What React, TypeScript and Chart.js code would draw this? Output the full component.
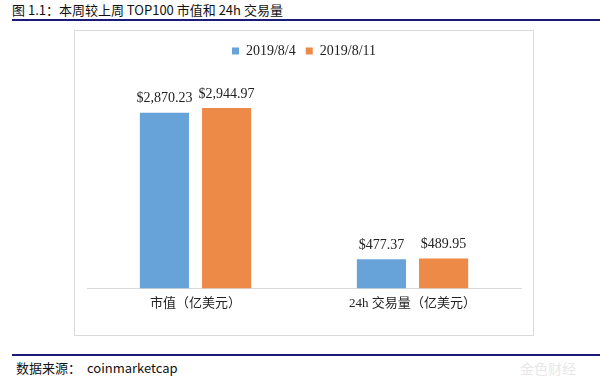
import React, { useEffect, useRef } from "react";
import { Chart, registerables } from "chart.js";

Chart.register(...registerables);

const categories = ["市值（亿美元）", "24h 交易量（亿美元）"];
const seriesNames = ["2019/8/4", "2019/8/11"];
const series1 = [2870.23, 477.37];
const series2 = [2944.97, 489.95];
const colors = ["#67A2D9", "#EE8A47"];

const fmt = (v: number) =>
  "$" + v.toLocaleString("en-US", { minimumFractionDigits: 2, maximumFractionDigits: 2 });

const labelPlugin = {
  id: "valueLabels",
  afterDatasetsDraw(chart: any) {
    const ctx = chart.ctx;
    ctx.save();
    ctx.font = "14px 'Liberation Serif'";
    ctx.fillStyle = "#222";
    ctx.textAlign = "center";
    ctx.textBaseline = "bottom";
    chart.data.datasets.forEach((ds: any, i: number) => {
      const meta = chart.getDatasetMeta(i);
      meta.data.forEach((el: any, j: number) => {
        ctx.fillText(fmt(ds.data[j]), el.x, el.y - 7);
      });
    });
    ctx.restore();
  },
};

export default function App() {
  const ref = useRef<HTMLCanvasElement>(null);
  useEffect(() => {
    if (!ref.current) return;
    const chart = new Chart(ref.current, {
      type: "bar",
      data: {
        labels: categories,
        datasets: [
          { label: seriesNames[0], data: series1, backgroundColor: colors[0] },
          { label: seriesNames[1], data: series2, backgroundColor: colors[1] },
        ],
      },
      options: {
        animation: false,
        responsive: false,
        maintainAspectRatio: false,
        categoryPercentage: 0.573,
        barPercentage: 0.79,
        layout: { padding: { left: 12, right: 12, top: 3, bottom: 17 } },
        plugins: {
          legend: {
            position: "top",
            labels: {
              boxWidth: 7,
              boxHeight: 7,
              padding: 10,
              color: "#222",
              font: { family: "'Liberation Serif'", size: 14 },
            },
          },
          tooltip: { enabled: false },
        },
        scales: {
          x: {
            grid: { display: false, drawTicks: false },
            border: { display: true, color: "#d9d9d9", width: 1 },
            ticks: {
              padding: 7,
              color: "#222",
              font: { family: "'Liberation Serif', 'Noto Sans CJK SC'", size: 13 },
            },
          },
          y: { display: false, min: 0, max: 3600 },
        },
      },
      plugins: [labelPlugin],
    });
    return () => chart.destroy();
  }, []);

  return (
    <div
      style={{
        position: "fixed",
        left: 0,
        top: 0,
        width: 600,
        height: 384,
        background: "#fff",
        fontFamily: "'Noto Sans CJK SC', sans-serif",
        overflow: "hidden",
      }}
    >
      <div
        style={{
          position: "absolute",
          left: 12,
          top: 1,
          fontSize: 13,
          lineHeight: "18px",
          color: "#111",
          whiteSpace: "pre",
        }}
      >
        图 1.1：本周较上周 TOP100 市值和 24h 交易量
      </div>
      <div
        style={{ position: "absolute", left: 12, top: 19, width: 588, height: 2, background: "#1a1a78" }}
      />
      <div
        style={{
          position: "absolute",
          left: 74,
          top: 30,
          width: 458,
          height: 304,
          border: "1px solid #d9d9d9",
        }}
      >
        <canvas ref={ref} width={458} height={304} style={{ display: "block" }} />
      </div>
      <div
        style={{ position: "absolute", left: 12, top: 354, width: 588, height: 2, background: "#1a1a78" }}
      />
      <div
        style={{
          position: "absolute",
          left: 16,
          top: 359,
          fontSize: 13,
          lineHeight: "18px",
          color: "#111",
          whiteSpace: "pre",
        }}
      >
        数据来源：
      </div>
      <div
        style={{
          position: "absolute",
          left: 87,
          top: 359,
          fontSize: 13,
          lineHeight: "18px",
          color: "#111",
          whiteSpace: "pre",
        }}
      >
        coinmarketcap
      </div>
      <div
        style={{
          position: "absolute",
          left: 520,
          top: 359,
          fontSize: 14,
          lineHeight: "18px",
          color: "#e8e8e8",
          whiteSpace: "pre",
        }}
      >
        金色财经
      </div>
    </div>
  );
}
